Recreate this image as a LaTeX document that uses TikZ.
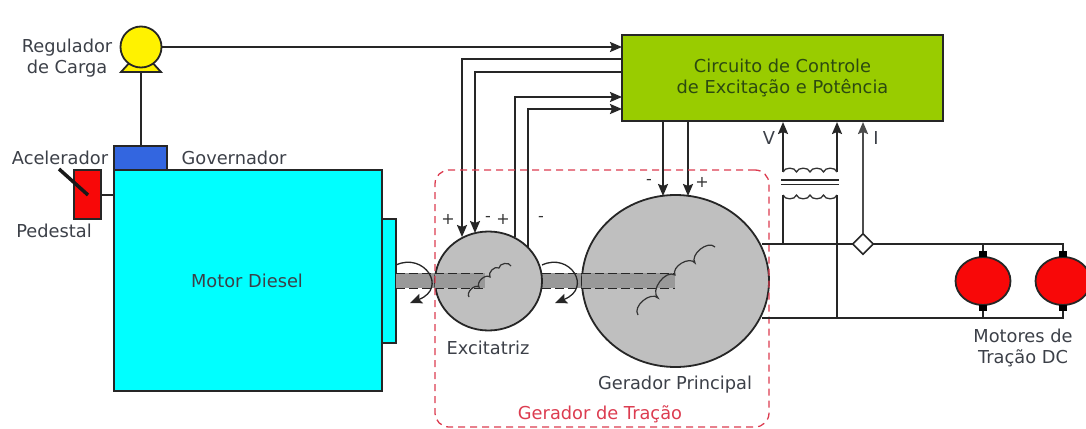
\documentclass[tikz,border=0pt]{standalone}
\usepackage{fontspec}
\setmainfont{DejaVu Sans}
\usepackage{tikz}
\usetikzlibrary{arrows.meta,shapes.geometric,calc}
\definecolor{ctrlgreen}{HTML}{99CC00}
\definecolor{ctrltext}{HTML}{2C4A10}
\definecolor{labgray}{HTML}{3C4048}
\definecolor{dashred}{HTML}{DC3C50}
\definecolor{govblue}{HTML}{3366E0}
\definecolor{enginecyan}{HTML}{00FFFF}
\definecolor{pedalred}{HTML}{F80808}
\tikzset{
  >={Stealth[length=12pt,width=10pt,inset=2pt]},
  block/.style={draw=black!85, line width=1.8pt, inner sep=0pt, outer sep=0pt},
  machine/.style={block, ellipse, fill=gray!50},
  motor/.style={block, ellipse, fill=pedalred, minimum width=55pt, minimum height=48pt},
  brush/.style={fill=black, inner sep=0pt, minimum width=8pt, minimum height=6pt},
  wire/.style={line width=2pt, draw=black!85},
  flow/.style={wire, ->},
  coil/.style={line width=1.2pt, draw=black!80},
  spin/.style={line width=1.3pt, draw=black!85, ->},
  lab/.style={font=\fontsize{17.8}{21}\selectfont, text=labgray, inner sep=0pt},
  sign/.style={font=\fontsize{16}{16}\selectfont, text=black!80, inner sep=0pt},
  shaft/.style={fill=gray!80, draw=none, minimum height=15pt, inner sep=0pt, outer sep=0pt}
}

\begin{document}
\begin{tikzpicture}[x=1pt,y=-1pt]
\useasboundingbox (0,0) rectangle (1086,428);
\clip (0,0) rectangle (1086,428);
% engine side
\node[block, fill=enginecyan, minimum width=268pt, minimum height=221pt] (diesel) at (248,280.5) {};
\node[block, fill=enginecyan, minimum width=14pt, minimum height=124pt] (flange) at (389,281) {};
\node[block, fill=govblue, minimum width=53pt, minimum height=24pt] (gov) at (140.5,158) {};
\node[block, fill=pedalred, minimum width=27pt, minimum height=49pt] (pedal) at (87.5,194.5) {};
\draw[wire] (pedal.east) -- (pedal.east -| diesel.west);
\coordinate (leverA) at (59,169);
\coordinate (leverB) at (88,195);
\draw[line width=3.5pt, black!90] (leverA) -- (leverB);
% load regulator
\coordinate (regbase) at (141,72);
\draw[block, fill=yellow] (121,72) -- (161,72) -- (150,60) -- (132,60) -- cycle;
\node[block, circle, fill=yellow, minimum size=41pt] (reg) at (141,47) {};
\draw[wire] (regbase) -- (gov.north -| regbase);
% shaft and machines
\node[shaft, minimum width=39pt] (shaftA) at (415.5,280.5) {};
\node[shaft, minimum width=40pt] (shaftB) at (562,280.5) {};
\node[machine, minimum width=107pt, minimum height=99pt] (exc) at (488.5,281) {};
\node[machine, minimum width=187pt, minimum height=172pt] (gen) at (675.5,281) {};
\node[shaft, minimum width=50pt] (shaftC) at (460,280.5) {};
\node[shaft, minimum width=93pt] (shaftD) at (628.5,280.5) {};
\foreach \s in {shaftA,shaftB,shaftC,shaftD} {
  \draw[wire, line width=1pt, dash pattern=on 9pt off 4pt] (\s.north west) -- (\s.north east);
  \draw[wire, line width=1pt, dash pattern=on 9pt off 4pt] (\s.south west) -- (\s.south east);
}
% windings
\coordinate (ea) at (469,297); \coordinate (eb) at (479,287); \coordinate (ec) at (490,277);
\coordinate (ed) at (499,268); \coordinate (ee) at (511,266);
\coordinate (ga) at (638,315); \coordinate (gb) at (658,298); \coordinate (gc) at (675,275);
\coordinate (gd) at (695,263); \coordinate (ge) at (715,247);
\draw[coil] (ea) to[bend left=80] (eb) to[bend left=80] (ec) to[bend left=80] (ed) to[bend left=80] (ee);
\draw[coil] (ga) to[bend left=85] (gb) to[bend left=85] (gc) to[bend left=85] (gd) to[bend left=85] (ge);
% rotation arrows
\coordinate (rotA) at (396,265); \coordinate (rotB) at (410,303);
\coordinate (rotC) at (542,265); \coordinate (rotD) at (555,303);
\draw[spin] (rotA) .. controls (424,252) and (448,288) .. (rotB);
\draw[spin] (rotC) .. controls (570,252) and (593,288) .. (rotD);
% control block
\node[block, fill=ctrlgreen, minimum width=321pt, minimum height=86pt, font=\fontsize{17.8}{21}\selectfont, text=ctrltext, align=center] (ctrl) at (782.5,78) {Circuito de Controle\\de Excitação e Potência};
\draw[flow] (reg.east) -- (reg.east -| ctrl.west);
% exciter field and armature
\coordinate (exA) at (462,237); \coordinate (exB) at (475,233);
\coordinate (exC) at (515,237); \coordinate (exD) at (528,248);
\coordinate (upA) at (0,59.5); \coordinate (upB) at (0,72); \coordinate (upC) at (0,97); \coordinate (upD) at (0,109);
\draw[flow] (ctrl.west |- upA) -| (exA);
\draw[flow] (ctrl.west |- upB) -| (exB);
\draw[flow] (exC) |- (ctrl.west |- upC);
\draw[flow] (exD) |- (ctrl.west |- upD);
\coordinate (gnA) at (663,196); \coordinate (gnB) at (688,196);
\draw[flow] (ctrl.south -| gnA) -- (gnA);
\draw[flow] (ctrl.south -| gnB) -- (gnB);
% traction box
\node[draw=dashred, line width=1.3pt, dash pattern=on 7pt off 5pt, rounded corners=14pt, fill=none, minimum width=334pt, minimum height=257pt, inner sep=0pt] (trac) at (602,298.5) {};
% output bus
\coordinate (busTL) at (762,244); \coordinate (busBL) at (762,317.5);
\coordinate (busTR) at (1063,244); \coordinate (busBR) at (1063,317.5);
\node[motor] (mA) at (983,281) {};
\node[motor] (mB) at (1063,281) {};
\node[brush] (brA) at (983,254) {};
\node[brush] (brB) at (983,307.5) {};
\node[brush] (brC) at (1063,254) {};
\node[brush] (brD) at (1063,307.5) {};
\draw[wire] (busTL) -- (busTR) -- (brC.north);
\draw[wire] (busBL) -- (busBR) -- (brD.south);
\draw[wire] (brA.north) -- (brA.north |- busTL);
\draw[wire] (brB.south) -- (brB.south |- busBL);
% sensor and transformer
\node[draw=black!85, line width=1.6pt, diamond, fill=white, minimum size=21pt, inner sep=0pt] (sens) at (863,244) {};
\draw[flow, draw=black!70] (sens.north) -- ($(sens.north |- ctrl.south)+(0,1)$);
\coordinate (trL) at (783,172); \coordinate (trR) at (837,172);
\coordinate (tlL) at (783,195); \coordinate (tlR) at (837,195);
\coordinate (coreA) at (781,180); \coordinate (coreB) at (781,184.5);
\draw[flow] (trL) -- ($(trL |- ctrl.south)+(0,1)$);
\draw[flow] (trR) -- ($(trR |- ctrl.south)+(0,1)$);
\draw[coil, line width=1.3pt] (trL) to[bend left=75] ++(13.5,0) to[bend left=75] ++(13.5,0) to[bend left=75] ++(13.5,0) to[bend left=75] (trR);
\draw[coil, line width=1.3pt] (tlL) to[bend right=75] ++(13.5,0) to[bend right=75] ++(13.5,0) to[bend right=75] ++(13.5,0) to[bend right=75] (tlR);
\draw[wire, line width=1.1pt] (coreA) -- ++(58,0);
\draw[wire, line width=1.1pt] (coreB) -- ++(58,0);
\draw[wire] (tlL) -- (tlL |- busTL);
\draw[wire] (tlR) -- (tlR |- busBL);
% labels
\node[lab, align=center] (lreg) at (67,58.5) {Regulador\\de Carga};
\node[lab] (lgov) at (234,158) {Governador};
\node[lab] (lacc) at (60,158) {Acelerador};
\node[lab] (lped) at (54,231) {Pedestal};
\node[lab] (ldie) at (247,281) {Motor Diesel};
\node[lab] (lexc) at (488,348) {Excitatriz};
\node[lab] (lgen) at (675,385) {Gerador Principal};
\node[lab, text=dashred] (ltrac) at (600,414) {Gerador de Tração};
\node[lab, align=center] (lmot) at (1023,348) {Motores de\\Tração DC};
\node[lab] (lv) at (769,138) {V};
\node[lab] (li) at (876,138) {I};
\node[sign] (pa) at (448,219) {+};
\node[sign] (pb) at (488,219) {-};
\node[sign] (pc) at (503,219) {+};
\node[sign] (pd) at (541,219) {-};
\node[sign] (pe) at (649,182) {-};
\node[sign] (pf) at (702,182) {+};
\end{tikzpicture}
\end{document}
